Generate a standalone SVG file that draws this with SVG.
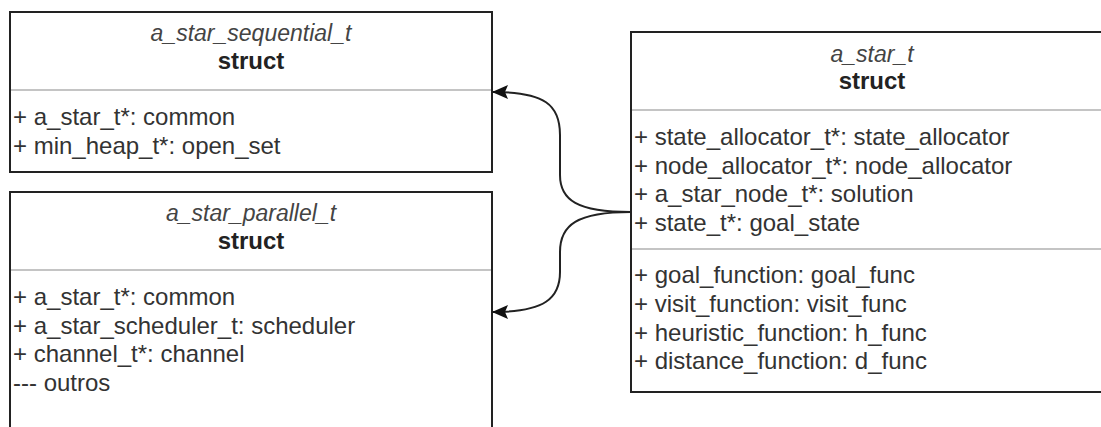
<svg xmlns="http://www.w3.org/2000/svg" width="1101" height="427" viewBox="0 0 1101 427">
  <defs>
    <style>
      .box { fill: #ffffff; stroke: #222222; stroke-width: 2; }
      .sep { stroke: #b0b0b0; stroke-width: 1.5; }
      .title { font-family: "Liberation Sans", Arial, sans-serif; font-size: 23px; font-style: italic; fill: #444444; text-anchor: middle; }
      .kind { font-family: "Liberation Sans", Arial, sans-serif; font-size: 24px; font-weight: bold; fill: #222222; text-anchor: middle; }
      .member { font-family: "Liberation Sans", Arial, sans-serif; font-size: 24px; fill: #333333; }
      .edge { fill: none; stroke: #222222; stroke-width: 2; }
    </style>
    <!-- classic arrowhead; tip sits on the path end -->
    <marker id="arrow" viewBox="0 0 16 14" refX="15" refY="7" markerWidth="16" markerHeight="14" markerUnits="userSpaceOnUse" orient="auto">
      <path d="M16,7 L0,0 L3,7 L0,14 Z" fill="#111111"/>
    </marker>
  </defs>

  <rect width="1101" height="427" fill="#ffffff"/>

  <!-- a_star_sequential_t -->
  <g id="a_star_sequential_t">
    <rect class="box" x="10" y="12" width="482" height="160"/>
    <line class="sep" x1="11" y1="90" x2="491" y2="90"/>
    <text class="title" x="251" y="41">a_star_sequential_t</text>
    <text class="kind" x="251" y="69">struct</text>
    <text class="member" x="13" y="125">+ a_star_t*: common</text>
    <text class="member" x="13" y="154">+ min_heap_t*: open_set</text>
  </g>

  <!-- a_star_parallel_t -->
  <g id="a_star_parallel_t">
    <rect class="box" x="10" y="192" width="482" height="260"/>
    <line class="sep" x1="11" y1="270" x2="491" y2="270"/>
    <text class="title" x="251" y="221">a_star_parallel_t</text>
    <text class="kind" x="251" y="249">struct</text>
    <text class="member" x="13" y="305">+ a_star_t*: common</text>
    <text class="member" x="13" y="334">+ a_star_scheduler_t: scheduler</text>
    <text class="member" x="13" y="362">+ channel_t*: channel</text>
    <text class="member" x="13" y="391">--- outros</text>
  </g>

  <!-- a_star_t -->
  <g id="a_star_t">
    <rect class="box" x="631" y="32" width="482" height="360"/>
    <line class="sep" x1="632" y1="110" x2="1112" y2="110"/>
    <line class="sep" x1="632" y1="249" x2="1112" y2="249"/>
    <text class="title" x="872" y="62">a_star_t</text>
    <text class="kind" x="872" y="89">struct</text>
    <text class="member" x="634" y="145">+ state_allocator_t*: state_allocator</text>
    <text class="member" x="634" y="174">+ node_allocator_t*: node_allocator</text>
    <text class="member" x="634" y="202">+ a_star_node_t*: solution</text>
    <text class="member" x="634" y="231">+ state_t*: goal_state</text>
    <text class="member" x="634" y="283">+ goal_function: goal_func</text>
    <text class="member" x="634" y="312">+ visit_function: visit_func</text>
    <text class="member" x="634" y="341">+ heuristic_function: h_func</text>
    <text class="member" x="634" y="369">+ distance_function: d_func</text>
  </g>

  <!-- connectors -->
  <g id="connectors">
    <path class="edge" marker-end="url(#arrow)" d="M631,212 C577,212 560,200 560,175 L560,135 C560,105 545,92 493,92"/>
    <path class="edge" marker-end="url(#arrow)" d="M631,212 C577,212 560,225 560,252 L560,272 C560,298 545,312 493,312"/>
  </g>
</svg>
